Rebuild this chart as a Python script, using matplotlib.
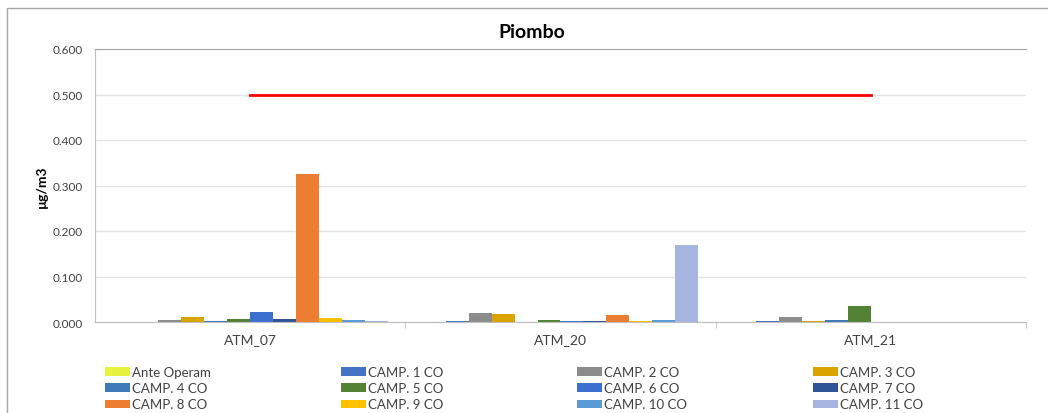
import matplotlib
matplotlib.use("Agg")
import matplotlib.pyplot as plt
import numpy as np
from matplotlib.patches import Rectangle

plt.rcParams["font.family"] = ["Lato", "DejaVu Sans"]

stations = ["ATM_07", "ATM_20", "ATM_21"]
series_names = ["Ante Operam", "CAMP. 1 CO", "CAMP. 2 CO", "CAMP. 3 CO",
                "CAMP. 4 CO", "CAMP. 5 CO", "CAMP. 6 CO", "CAMP. 7 CO",
                "CAMP. 8 CO", "CAMP. 9 CO", "CAMP. 10 CO", "CAMP. 11 CO"]
colors = ["#E6F23E", "#4472C4", "#8C8C8C", "#D9A300",
          "#3F7AB8", "#548235", "#3C6FCF", "#2F5597",
          "#ED7D31", "#FFC000", "#5B9BD5", "#A6B4E0"]

# valori per stazione (µg/m3), nan = campagna non eseguita
values = {
    "Ante Operam": [0.001, 0.001, 0.001],
    "CAMP. 1 CO": [0.000, 0.002, 0.002],
    "CAMP. 2 CO": [0.005, 0.019, 0.012],
    "CAMP. 3 CO": [0.010, 0.018, 0.003],
    "CAMP. 4 CO": [0.002, 0.001, 0.004],
    "CAMP. 5 CO": [0.007, 0.005, 0.035],
    "CAMP. 6 CO": [0.023, 0.002, np.nan],
    "CAMP. 7 CO": [0.006, 0.002, np.nan],
    "CAMP. 8 CO": [0.325, 0.016, np.nan],
    "CAMP. 9 CO": [0.008, 0.002, np.nan],
    "CAMP. 10 CO": [0.005, 0.005, np.nan],
    "CAMP. 11 CO": [0.002, 0.170, np.nan],
}
limit = [0.5, 0.5, 0.5]

fig = plt.figure(figsize=(10.48, 4.14), dpi=100)
ax = fig.add_axes([95 / 1048, 1 - 323 / 414, (1026 - 95) / 1048, (323 - 50) / 414])

# cornice esterna del grafico
fig.patches.append(Rectangle((7 / 1048, -0.1), 1.1, 1 - 9 / 414 + 0.1,
                             transform=fig.transFigure, fill=False,
                             edgecolor="#A6A6A6", linewidth=1))

x = np.arange(len(stations))
width = 0.074
n = len(series_names)
handles = []
for i, name in enumerate(series_names):
    offset = (i - n / 2 + 0.5) * width
    b = ax.bar(x + offset, values[name], width, color=colors[i], label=name, zorder=2)
    handles.append(b)

ax.plot(x, limit, color="#FF0000", linewidth=2, zorder=3)

ax.set_xlim(-0.5, 2.5)
ax.set_ylim(0, 0.6)
ax.set_yticks(np.arange(0, 0.61, 0.1))
ax.set_yticklabels([f"{v:.3f}" for v in np.arange(0, 0.61, 0.1)], fontsize=8.5, color="#404040")
ax.set_xticks(x)
ax.set_xticklabels(stations, fontsize=10, color="#404040")
ax.set_xticks([0.5, 1.5, 2.5], minor=True)
ax.tick_params(axis="x", which="major", length=0, pad=8)
ax.tick_params(axis="x", which="minor", length=4, direction="out", color="#BFBFBF")
ax.tick_params(axis="y", length=0, pad=9)

ax.grid(axis="y", color="#E3E3E3", linewidth=1, zorder=0)
ax.spines["right"].set_visible(False)
ax.spines["top"].set_color("#A6A6A6")
ax.spines["left"].set_color("#BFBFBF")
ax.spines["bottom"].set_color("#BFBFBF")

ax.set_ylabel("µg/m3", fontsize=10, fontweight="bold", labelpad=3)
fig.text(532 / 1048, 1 - 32 / 414, "Piombo", ha="center", va="center",
         fontsize=14, fontweight="bold")

# legenda: 4 colonne, riempite riga per riga
col_x = [105, 341, 577, 813]
for c in range(4):
    idx = [c, c + 4, c + 8]
    leg = fig.legend([handles[k] for k in idx], [series_names[k] for k in idx],
                     loc="upper left", bbox_to_anchor=(col_x[c] / 1048, 1 - 367 / 414),
                     frameon=False, fontsize=9.5, handlelength=1.9, handleheight=0.6,
                     handletextpad=0.15, labelspacing=0.32,
                     borderpad=0, borderaxespad=0)
    for t in leg.get_texts():
        t.set_color("#404040")

fig.savefig("out.png", dpi=100)
